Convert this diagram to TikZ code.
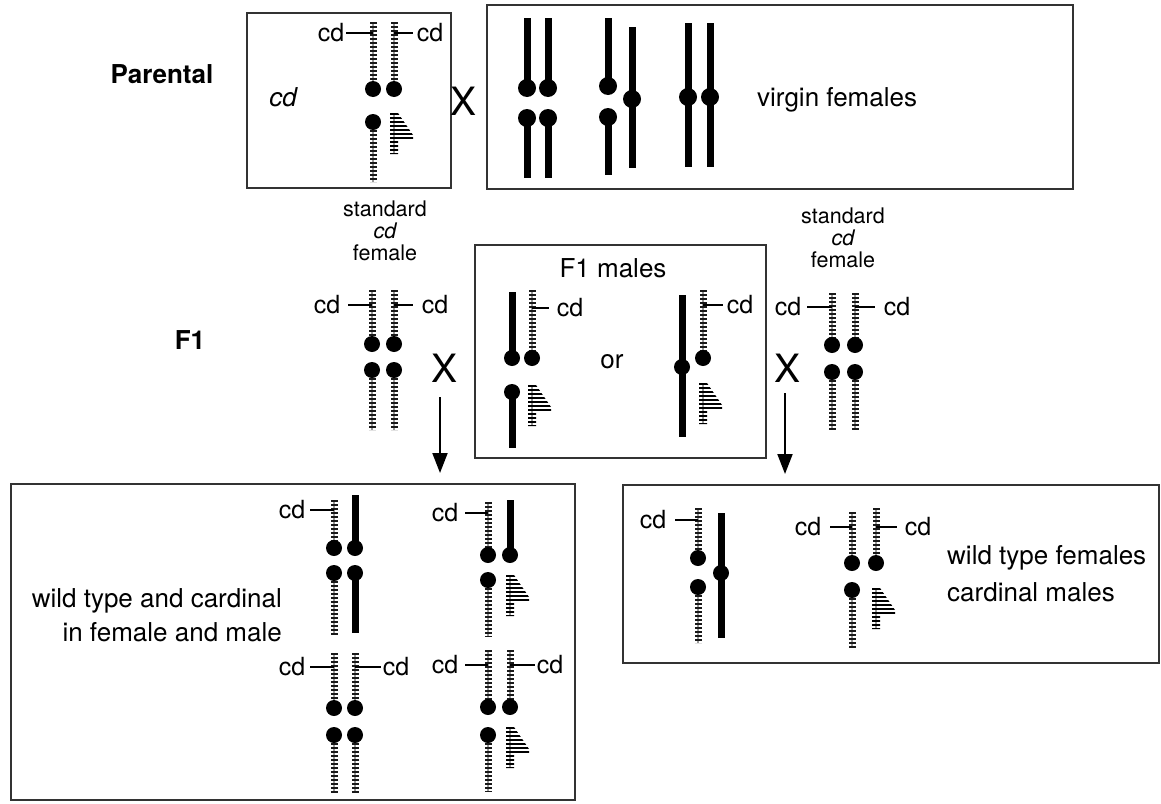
\documentclass[tikz,border=0pt]{standalone}
\usepackage{fontspec}
\setmainfont{TeX Gyre Heros}
\usetikzlibrary{arrows.meta}

% chromosome drawing helpers (coordinates in px, y downwards)
\newcommand\stripedarm[3]{%
  \draw[stripecore] (#1,#2) -- (#1,#3);
  \draw[stripebars] (#1,#2) -- (#1,#3);}
\newcommand\solidarm[3]{\draw[solidbar] (#1,#2) -- (#1,#3);}
\newcommand\centro[2]{\fill (#1,#2) circle[radius=8pt];}
\newcommand\bigcentro[2]{\fill (#1,#2) circle[radius=9pt];}
\newcommand\cdtick[3]{\draw[tickline] (#1,#3) -- (#2,#3);}

\tikzset{
  box/.style={draw=black!80, line width=2.2pt},
  stripecore/.style={line width=2pt, black!40},
  stripebars/.style={line width=7pt, dash pattern=on 2pt off 2pt, black!90},
  solidbar/.style={line width=7pt, black},
  tickline/.style={line width=1.7pt, black},
  lbl/.style={inner sep=0pt, font=\fontsize{26}{30}\selectfont},
  cdlbl/.style={inner sep=0pt, font=\fontsize{25}{30}\selectfont},
  small/.style={inner sep=0pt, font=\fontsize{21.5}{26}\selectfont},
  gen/.style={inner sep=0pt, font=\fontsize{26}{30}\selectfont\bfseries},
  cross/.style={inner sep=0pt, font=\fontsize{39}{44}\selectfont},
  descent/.style={line width=2pt, -{Triangle[width=15pt,length=20pt]}},
  ymark/.pic={
    \draw[stripecore] (0,0) -- (0,41);
    \begin{scope}
      \clip (-4,0) -- (4,0) -- (19,22) -- (19,26) -- (4,26) -- (4,41) -- (-4,41) -- cycle;
      \foreach \k in {0,...,10} \draw[line width=2.2pt] (-5,\k*4+1) -- (21,\k*4+1);
    \end{scope}
  }
}

\begin{document}
\begin{tikzpicture}[x=1pt, y=-1pt]
\useasboundingbox (0,0) rectangle (1161,803);
\fill[white] (0,0) rectangle (1161,803);

% frames
\draw[box] (247,13) rectangle (451,188);
\draw[box] (487,5) rectangle (1073,189);
\draw[box] (475,245) rectangle (766,458);
\draw[box] (11,484) rectangle (575,800);
\draw[box] (623,485) rectangle (1159,663);

% generation labels
\node[gen] (parental) at (162,74) {Parental};
\node[gen] (fone) at (190,340) {F1};

% ---------------- parental cd male
\node[lbl] (pcd) at (283,97) {\itshape cd};
\stripedarm{373}{22}{89}
\stripedarm{394}{22}{89}
\stripedarm{373}{122}{182}
\centro{373}{89} \centro{394}{89}
\centro{373}{122}
\pic at (394,113) {ymark};
\cdtick{346}{373}{33} \cdtick{394}{413}{33}
\node[cdlbl] (pcdl) at (331,33) {cd};
\node[cdlbl] (pcdr) at (430,33) {cd};

\node[cross] (xone) at (463,101) {X};

% ---------------- virgin females
\solidarm{527}{18}{88} \solidarm{527}{118}{178}
\solidarm{548}{18}{88} \solidarm{548}{118}{178}
\solidarm{608}{18}{86} \solidarm{608}{117}{175}
\solidarm{632}{27}{168}
\solidarm{688}{23}{167}
\solidarm{710}{23}{167}
\bigcentro{527}{88} \bigcentro{527}{118}
\bigcentro{548}{88} \bigcentro{548}{118}
\bigcentro{608}{86} \bigcentro{608}{117}
\bigcentro{632}{99}
\bigcentro{688}{97}
\bigcentro{710}{97}
\node[lbl, anchor=west] (virgin) at (757,100) {virgin females};

% ---------------- standard cd female (left)
\node[small] (stdl) at (385,209) {standard};
\node[small] (stdlcd) at (385,231) {\itshape cd};
\node[small] (stdlf) at (385,253) {female};
\stripedarm{372}{290}{344} \stripedarm{394}{290}{344}
\stripedarm{372}{370}{430} \stripedarm{394}{370}{430}
\centro{372}{344} \centro{394}{344}
\centro{372}{370} \centro{394}{370}
\cdtick{348}{372}{305} \cdtick{394}{413}{305}
\node[cdlbl] (flcdl) at (327,305) {cd};
\node[cdlbl] (flcdr) at (435,305) {cd};

\node[cross] (xtwo) at (445,368) {X};
\coordinate (arrlA) at (440,397);
\coordinate (arrlB) at (440,473);
\draw[descent] (arrlA) -- (arrlB);

% ---------------- F1 males
\node[lbl] (fmales) at (613,268) {F1 males};
\solidarm{512}{292}{358} \solidarm{512}{392}{448}
\stripedarm{532}{290}{358}
\centro{512}{358} \centro{512}{392} \centro{532}{358}
\pic at (532,385) {ymark};
\cdtick{532}{549}{308}
\node[cdlbl] (mcdl) at (570,308) {cd};
\node[lbl] (orword) at (612,362) {or};
\solidarm{682}{295}{437}
\stripedarm{703}{290}{358}
\centro{682}{367} \centro{703}{358}
\pic at (703,383) {ymark};
\cdtick{703}{723}{305}
\node[cdlbl] (mcdr) at (740,305) {cd};

% ---------------- standard cd female (right)
\node[small] (stdr) at (843,216) {standard};
\node[small] (stdrcd) at (843,238) {\itshape cd};
\node[small] (stdrf) at (843,260) {female};
\stripedarm{832}{293}{345} \stripedarm{855}{293}{345}
\stripedarm{832}{372}{430} \stripedarm{855}{372}{430}
\centro{832}{345} \centro{855}{345}
\centro{832}{372} \centro{855}{372}
\cdtick{807}{832}{307} \cdtick{855}{875}{307}
\node[cdlbl] (frcdl) at (788,307) {cd};
\node[cdlbl] (frcdr) at (897,307) {cd};

\node[cross] (xthree) at (787,368) {X};
\coordinate (arrrA) at (785,393);
\coordinate (arrrB) at (785,474);
\draw[descent] (arrrA) -- (arrrB);

% ---------------- offspring, left cross
\node[lbl, anchor=east] (wtc) at (282,601) {wild type and cardinal};
\node[lbl, anchor=east] (ifm) at (282,632) {in female and male};
% group A
\stripedarm{334}{500}{548} \stripedarm{334}{573}{635}
\solidarm{355}{495}{548} \solidarm{355}{573}{633}
\centro{334}{548} \centro{334}{573}
\centro{355}{548} \centro{355}{573}
\cdtick{310}{334}{510}
\node[cdlbl] (acd) at (292,510) {cd};
% group B
\stripedarm{488}{502}{555} \stripedarm{488}{580}{637}
\solidarm{510}{500}{555}
\centro{488}{555} \centro{488}{580} \centro{510}{555}
\pic at (510,575) {ymark};
\cdtick{465}{488}{513}
\node[cdlbl] (bcd) at (445,513) {cd};
% group C
\stripedarm{334}{653}{708} \stripedarm{355}{653}{708}
\stripedarm{334}{735}{793} \stripedarm{355}{735}{793}
\centro{334}{708} \centro{355}{708}
\centro{334}{735} \centro{355}{735}
\cdtick{310}{334}{667} \cdtick{355}{381}{667}
\node[cdlbl] (ccdl) at (292,667) {cd};
\node[cdlbl] (ccdr) at (396,667) {cd};
% group D
\stripedarm{488}{650}{707} \stripedarm{510}{650}{707}
\stripedarm{488}{735}{792}
\centro{488}{707} \centro{510}{707} \centro{488}{735}
\pic at (510,727) {ymark};
\cdtick{465}{488}{665} \cdtick{510}{535}{665}
\node[cdlbl] (dcdl) at (445,665) {cd};
\node[cdlbl] (dcdr) at (550,665) {cd};

% ---------------- offspring, right cross
% group E
\stripedarm{698}{508}{558} \stripedarm{698}{587}{643}
\solidarm{721}{513}{638}
\centro{698}{558} \centro{698}{587} \centro{721}{573}
\cdtick{675}{698}{520}
\node[cdlbl] (ecd) at (653,520) {cd};
% group F
\stripedarm{852}{512}{563} \stripedarm{876}{508}{563}
\stripedarm{852}{590}{648}
\centro{852}{563} \centro{876}{563} \centro{852}{590}
\pic at (876,588) {ymark};
\cdtick{830}{852}{527} \cdtick{876}{897}{527}
\node[cdlbl] (fcdl) at (808,527) {cd};
\node[cdlbl] (fcdr) at (918,527) {cd};
\node[lbl, anchor=west] (wtf) at (947,558) {wild type females};
\node[lbl, anchor=west] (cdm) at (947,592) {cardinal males};
\end{tikzpicture}
\end{document}
